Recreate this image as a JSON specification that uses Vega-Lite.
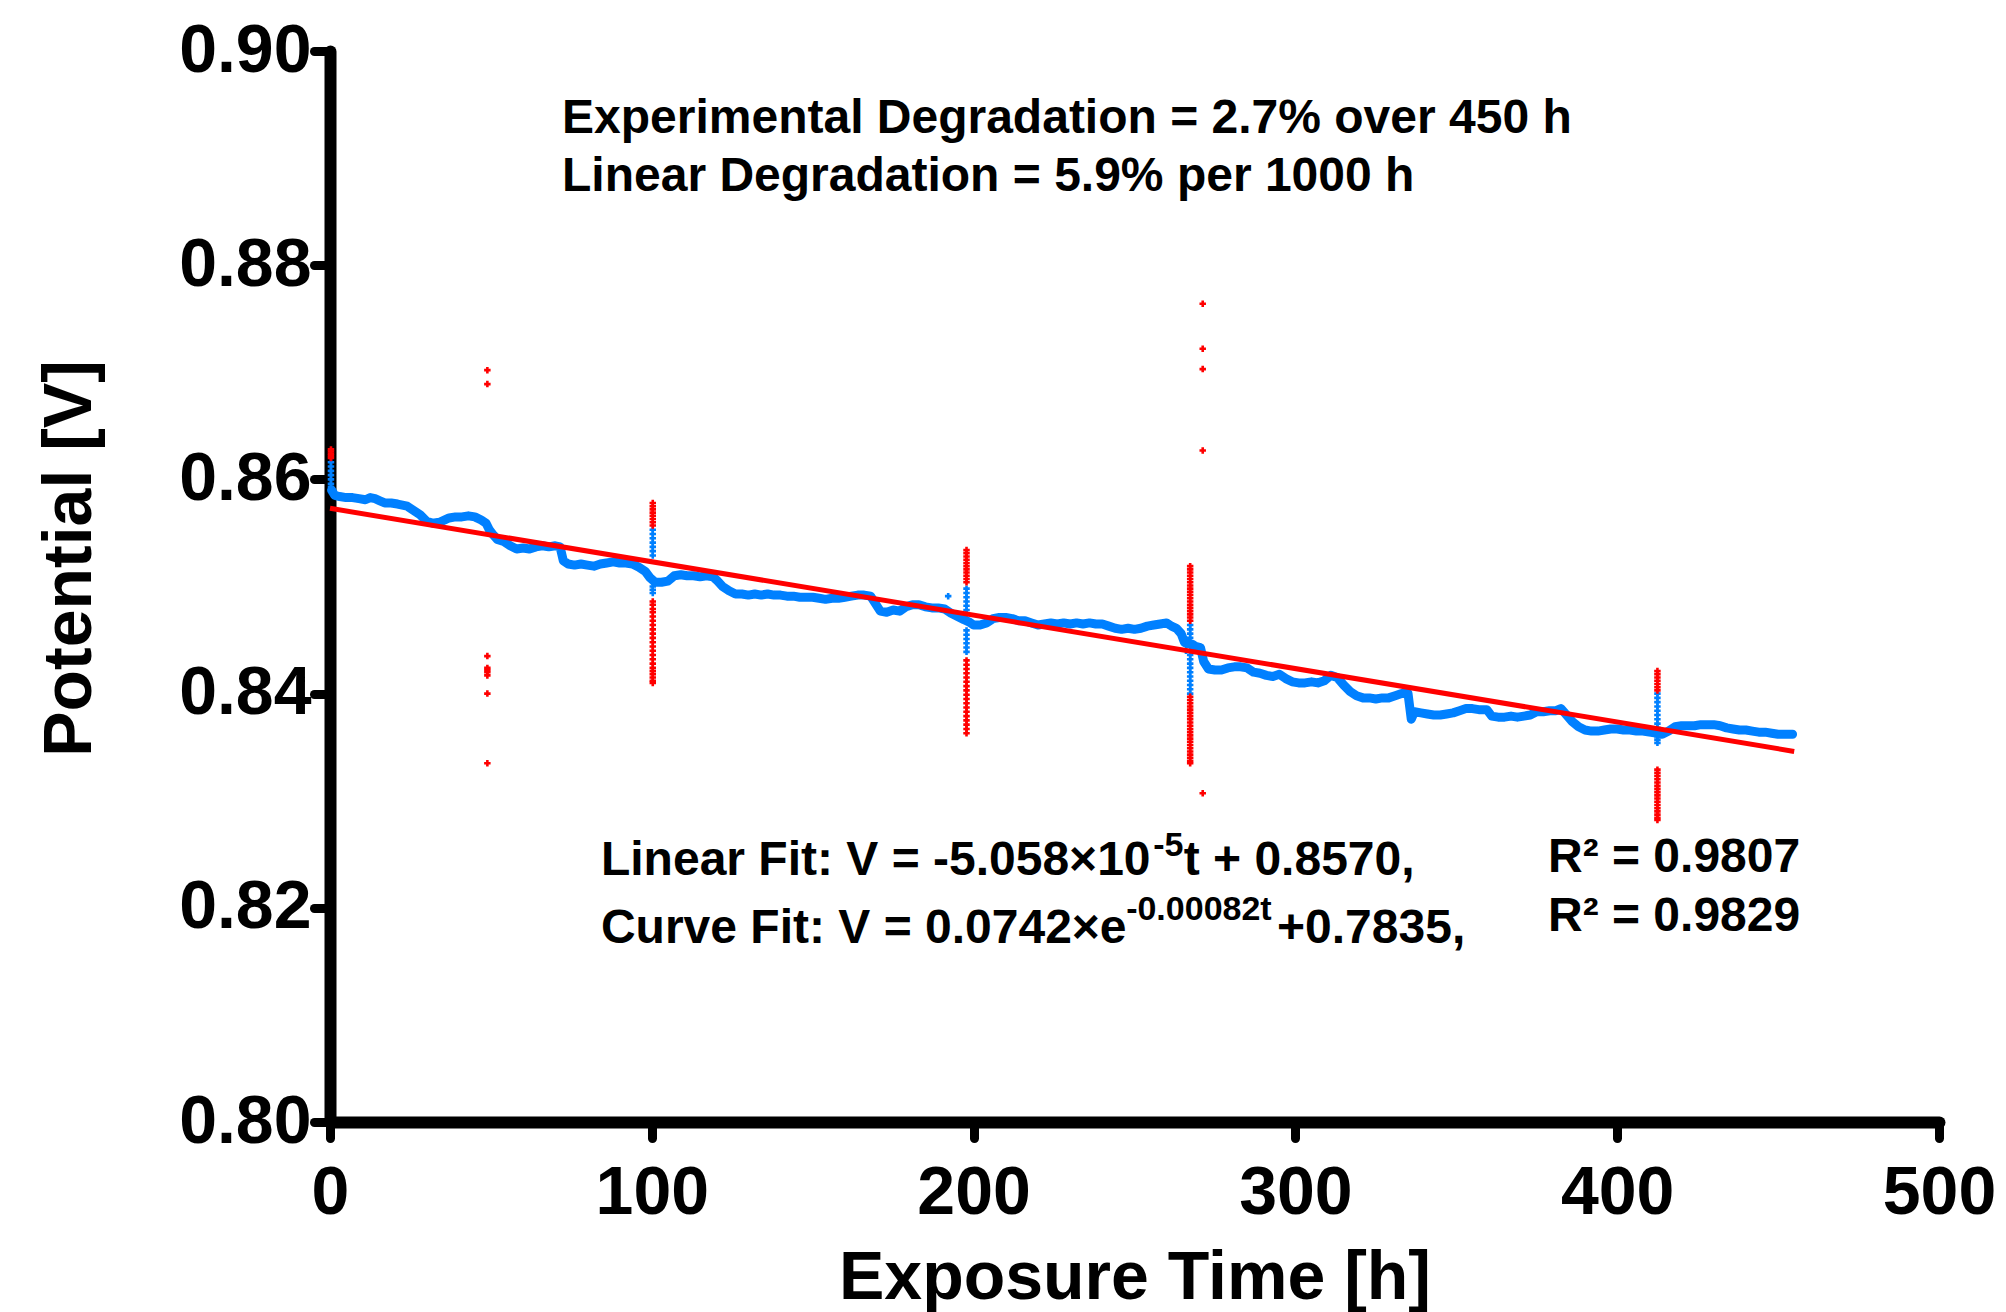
{
  "$schema": "https://vega.github.io/schema/vega-lite/v6.json",
  "autosize": {"type": "none"},
  "padding": {"left": 330, "top": 51, "right": 67, "bottom": 190},
  "width": 1609,
  "height": 1071,
  "background": "white",
  "config": {
    "view": {"stroke": null},
    "axis": {
      "grid": false,
      "domainColor": "black",
      "domainWidth": 12,
      "domainCap": "round",
      "tickColor": "black",
      "tickWidth": 9,
      "tickSize": 16,
      "tickCap": "round",
      "labelFont": "Liberation Sans",
      "labelFontWeight": "bold",
      "labelFontSize": 68,
      "labelColor": "black",
      "labelFlush": false,
      "labelOverlap": false,
      "labelBound": false,
      "titleFont": "Liberation Sans",
      "titleFontWeight": "bold",
      "titleFontSize": 68,
      "titleColor": "black"
    }
  },
  "datasets": {
    "trace": [
      {"t":0.5,"v":0.8590},{"t":1.5,"v":0.8585},{"t":3,"v":0.8584},{"t":5,"v":0.8583},{"t":7,"v":0.8583},{"t":9,"v":0.8582},{"t":11,"v":0.8581},{"t":12.5,"v":0.8583},{"t":14,"v":0.8582},{"t":15.5,"v":0.8580},{"t":17,"v":0.8578},{"t":19,"v":0.8578},{"t":21,"v":0.8577},{"t":22.5,"v":0.8576},{"t":24,"v":0.8575},{"t":26,"v":0.8571},{"t":28,"v":0.8567},{"t":30,"v":0.8561},{"t":32,"v":0.8559},{"t":34,"v":0.8560},{"t":35.5,"v":0.8562},{"t":37,"v":0.8564},{"t":39,"v":0.8565},{"t":41,"v":0.8565},{"t":43,"v":0.8566},{"t":45,"v":0.8565},{"t":47,"v":0.8562},{"t":48.5,"v":0.8559},{"t":49.5,"v":0.8553},{"t":50.5,"v":0.8549},{"t":52,"v":0.8544},{"t":54,"v":0.8542},{"t":56,"v":0.8538},{"t":58,"v":0.8535},{"t":60,"v":0.8536},{"t":62,"v":0.8535},{"t":64,"v":0.8537},{"t":66,"v":0.8538},{"t":68,"v":0.8537},{"t":70,"v":0.8538},{"t":71.5,"v":0.8537},{"t":72.5,"v":0.8524},{"t":74,"v":0.8521},{"t":76,"v":0.8520},{"t":78,"v":0.8521},{"t":80,"v":0.8520},{"t":82,"v":0.8519},{"t":84,"v":0.8521},{"t":86,"v":0.8522},{"t":88,"v":0.8523},{"t":90,"v":0.8522},{"t":92,"v":0.8522},{"t":94,"v":0.8521},{"t":96,"v":0.8518},{"t":98,"v":0.8514},{"t":99.5,"v":0.8508},{"t":101,"v":0.8504},{"t":103,"v":0.8504},{"t":105,"v":0.8505},{"t":107,"v":0.8510},{"t":109,"v":0.8511},{"t":111,"v":0.8510},{"t":113,"v":0.8510},{"t":115,"v":0.8509},{"t":117,"v":0.8510},{"t":119,"v":0.8509},{"t":120.5,"v":0.8505},{"t":122,"v":0.8500},{"t":124,"v":0.8496},{"t":126,"v":0.8493},{"t":128,"v":0.8493},{"t":130,"v":0.8492},{"t":132,"v":0.8493},{"t":134,"v":0.8492},{"t":136,"v":0.8493},{"t":138,"v":0.8492},{"t":140,"v":0.8492},{"t":142,"v":0.8491},{"t":144,"v":0.8491},{"t":146,"v":0.8490},{"t":148,"v":0.8490},{"t":150,"v":0.8490},{"t":152,"v":0.8489},{"t":154,"v":0.8488},{"t":156,"v":0.8489},{"t":158,"v":0.8489},{"t":160,"v":0.8490},{"t":162,"v":0.8491},{"t":164,"v":0.8492},{"t":166,"v":0.8492},{"t":168,"v":0.8491},{"t":169.5,"v":0.8484},{"t":171,"v":0.8477},{"t":173,"v":0.8476},{"t":175,"v":0.8478},{"t":177,"v":0.8477},{"t":179,"v":0.8481},{"t":181,"v":0.8483},{"t":183,"v":0.8483},{"t":185,"v":0.8481},{"t":187,"v":0.8480},{"t":189,"v":0.8480},{"t":191,"v":0.8479},{"t":193,"v":0.8475},{"t":195,"v":0.8472},{"t":197,"v":0.8469},{"t":198.5,"v":0.8467},{"t":200,"v":0.8464},{"t":202,"v":0.8464},{"t":204,"v":0.8466},{"t":206,"v":0.8470},{"t":208,"v":0.8471},{"t":210,"v":0.8471},{"t":212,"v":0.8470},{"t":214,"v":0.8468},{"t":216,"v":0.8468},{"t":218,"v":0.8466},{"t":220,"v":0.8464},{"t":222,"v":0.8465},{"t":224,"v":0.8466},{"t":226,"v":0.8465},{"t":228,"v":0.8466},{"t":230,"v":0.8465},{"t":232,"v":0.8466},{"t":234,"v":0.8465},{"t":236,"v":0.8466},{"t":238,"v":0.8465},{"t":240,"v":0.8465},{"t":242,"v":0.8463},{"t":244,"v":0.8461},{"t":246,"v":0.8460},{"t":248,"v":0.8461},{"t":250,"v":0.8460},{"t":252,"v":0.8461},{"t":254,"v":0.8463},{"t":256,"v":0.8464},{"t":258,"v":0.8465},{"t":260,"v":0.8466},{"t":261.5,"v":0.8463},{"t":263,"v":0.8461},{"t":264.5,"v":0.8456},{"t":265.5,"v":0.8448},{"t":266.5,"v":0.8447},{"t":268,"v":0.8446},{"t":269,"v":0.8444},{"t":270.5,"v":0.8443},{"t":271.5,"v":0.8430},{"t":273,"v":0.8423},{"t":275,"v":0.8422},{"t":277,"v":0.8422},{"t":279,"v":0.8424},{"t":281,"v":0.8425},{"t":283,"v":0.8425},{"t":285,"v":0.8424},{"t":287,"v":0.8420},{"t":289,"v":0.8419},{"t":291,"v":0.8417},{"t":293,"v":0.8416},{"t":295,"v":0.8418},{"t":297,"v":0.8414},{"t":299,"v":0.8411},{"t":301,"v":0.8410},{"t":303,"v":0.8410},{"t":305,"v":0.8411},{"t":307,"v":0.8410},{"t":309,"v":0.8412},{"t":311,"v":0.8417},{"t":313,"v":0.8415},{"t":315,"v":0.8408},{"t":317,"v":0.8402},{"t":319,"v":0.8398},{"t":321,"v":0.8396},{"t":323,"v":0.8396},{"t":325,"v":0.8395},{"t":327,"v":0.8396},{"t":329,"v":0.8396},{"t":331,"v":0.8398},{"t":333,"v":0.8400},{"t":335,"v":0.8400},{"t":336,"v":0.8376},{"t":337,"v":0.8383},{"t":339,"v":0.8382},{"t":341,"v":0.8381},{"t":343,"v":0.8380},{"t":345,"v":0.8380},{"t":347,"v":0.8381},{"t":349,"v":0.8382},{"t":351,"v":0.8384},{"t":353,"v":0.8386},{"t":355,"v":0.8386},{"t":357,"v":0.8385},{"t":359.5,"v":0.8385},{"t":361,"v":0.8379},{"t":363,"v":0.8378},{"t":365,"v":0.8378},{"t":367,"v":0.8379},{"t":369,"v":0.8378},{"t":371,"v":0.8379},{"t":373,"v":0.8380},{"t":375,"v":0.8383},{"t":377,"v":0.8383},{"t":379,"v":0.8384},{"t":381,"v":0.8384},{"t":382.5,"v":0.8386},{"t":384,"v":0.8381},{"t":386,"v":0.8374},{"t":388,"v":0.8369},{"t":390,"v":0.8366},{"t":392,"v":0.8365},{"t":394,"v":0.8365},{"t":396,"v":0.8366},{"t":398,"v":0.8367},{"t":400,"v":0.8367},{"t":402,"v":0.8366},{"t":404,"v":0.8366},{"t":406,"v":0.8365},{"t":408,"v":0.8365},{"t":410,"v":0.8364},{"t":412.5,"v":0.8363},{"t":414,"v":0.8362},{"t":416,"v":0.8365},{"t":418,"v":0.8369},{"t":420,"v":0.8370},{"t":422,"v":0.8370},{"t":424,"v":0.8370},{"t":426,"v":0.8371},{"t":428,"v":0.8371},{"t":430,"v":0.8371},{"t":432,"v":0.8370},{"t":434,"v":0.8368},{"t":436,"v":0.8367},{"t":438,"v":0.8366},{"t":440,"v":0.8366},{"t":442,"v":0.8365},{"t":444,"v":0.8364},{"t":446,"v":0.8364},{"t":448,"v":0.8363},{"t":450,"v":0.8362},{"t":452,"v":0.8362},{"t":454.5,"v":0.8362}
    ],
    "spikes": [
      {"t":0.3,"v":0.8616,"kind":"included"},{"t":0.3,"v":0.8612,"kind":"included"},{"t":0.3,"v":0.8608,"kind":"included"},{"t":0.3,"v":0.8604,"kind":"included"},{"t":0.3,"v":0.8600,"kind":"included"},{"t":0.3,"v":0.8596,"kind":"included"},{"t":0.3,"v":0.8593,"kind":"included"},
      {"t":100.3,"v":0.8553,"kind":"included"},{"t":100.3,"v":0.8549,"kind":"included"},{"t":100.3,"v":0.8545,"kind":"included"},{"t":100.3,"v":0.8541,"kind":"included"},{"t":100.3,"v":0.8537,"kind":"included"},{"t":100.3,"v":0.8533,"kind":"included"},{"t":100.3,"v":0.8529,"kind":"included"},{"t":100.3,"v":0.8500,"kind":"included"},{"t":100.3,"v":0.8497,"kind":"included"},{"t":100.3,"v":0.8494,"kind":"included"},
      {"t":192.1,"v":0.8491,"kind":"included"},
      {"t":197.8,"v":0.8498,"kind":"included"},{"t":197.8,"v":0.8494,"kind":"included"},{"t":197.8,"v":0.8490,"kind":"included"},{"t":197.8,"v":0.8486,"kind":"included"},{"t":197.8,"v":0.8482,"kind":"included"},{"t":197.8,"v":0.8478,"kind":"included"},{"t":197.8,"v":0.8474,"kind":"included"},{"t":197.8,"v":0.8459,"kind":"included"},{"t":197.8,"v":0.8455,"kind":"included"},{"t":197.8,"v":0.8451,"kind":"included"},{"t":197.8,"v":0.8447,"kind":"included"},{"t":197.8,"v":0.8443,"kind":"included"},{"t":197.8,"v":0.8439,"kind":"included"},
      {"t":266,"v":0.8450,"kind":"included"},{"t":266,"v":0.8445,"kind":"included"},{"t":266,"v":0.8440,"kind":"included"},
      {"t":267.3,"v":0.8464,"kind":"included"},{"t":267.3,"v":0.8460,"kind":"included"},{"t":267.3,"v":0.8456,"kind":"included"},{"t":267.3,"v":0.8452,"kind":"included"},{"t":267.3,"v":0.8448,"kind":"included"},{"t":267.3,"v":0.8444,"kind":"included"},{"t":267.3,"v":0.8440,"kind":"included"},{"t":267.3,"v":0.8436,"kind":"included"},{"t":267.3,"v":0.8432,"kind":"included"},{"t":267.3,"v":0.8428,"kind":"included"},{"t":267.3,"v":0.8424,"kind":"included"},{"t":267.3,"v":0.8420,"kind":"included"},{"t":267.3,"v":0.8416,"kind":"included"},{"t":267.3,"v":0.8412,"kind":"included"},{"t":267.3,"v":0.8408,"kind":"included"},{"t":267.3,"v":0.8404,"kind":"included"},{"t":267.3,"v":0.8400,"kind":"included"},
      {"t":412.5,"v":0.8400,"kind":"included"},{"t":412.5,"v":0.8396,"kind":"included"},{"t":412.5,"v":0.8392,"kind":"included"},{"t":412.5,"v":0.8388,"kind":"included"},{"t":412.5,"v":0.8384,"kind":"included"},{"t":412.5,"v":0.8380,"kind":"included"},{"t":412.5,"v":0.8376,"kind":"included"},{"t":412.5,"v":0.8372,"kind":"included"},{"t":412.5,"v":0.8368,"kind":"included"},{"t":412.5,"v":0.8360,"kind":"included"},{"t":412.5,"v":0.8357,"kind":"included"},{"t":412.5,"v":0.8354,"kind":"included"},
      {"t":0.3,"v":0.8628,"kind":"outlier"},{"t":0.3,"v":0.8626,"kind":"outlier"},{"t":0.3,"v":0.8624,"kind":"outlier"},{"t":0.3,"v":0.8622,"kind":"outlier"},{"t":0.3,"v":0.8620,"kind":"outlier"},
      {"t":48.9,"v":0.8702,"kind":"outlier"},{"t":48.9,"v":0.8689,"kind":"outlier"},{"t":48.9,"v":0.8435,"kind":"outlier"},{"t":48.9,"v":0.8424,"kind":"outlier"},{"t":48.9,"v":0.8422,"kind":"outlier"},{"t":48.9,"v":0.8420,"kind":"outlier"},{"t":48.9,"v":0.8417,"kind":"outlier"},{"t":48.9,"v":0.8400,"kind":"outlier"},{"t":48.9,"v":0.8335,"kind":"outlier"},
      {"t":100.3,"v":0.8578,"kind":"outlier"},{"t":100.3,"v":0.8575,"kind":"outlier"},{"t":100.3,"v":0.8572,"kind":"outlier"},{"t":100.3,"v":0.8569,"kind":"outlier"},{"t":100.3,"v":0.8566,"kind":"outlier"},{"t":100.3,"v":0.8563,"kind":"outlier"},{"t":100.3,"v":0.8560,"kind":"outlier"},{"t":100.3,"v":0.8557,"kind":"outlier"},
      {"t":100.3,"v":0.8486,"kind":"outlier"},{"t":100.3,"v":0.8483,"kind":"outlier"},{"t":100.3,"v":0.8479,"kind":"outlier"},{"t":100.3,"v":0.8476,"kind":"outlier"},{"t":100.3,"v":0.8472,"kind":"outlier"},{"t":100.3,"v":0.8468,"kind":"outlier"},{"t":100.3,"v":0.8464,"kind":"outlier"},{"t":100.3,"v":0.8460,"kind":"outlier"},{"t":100.3,"v":0.8456,"kind":"outlier"},{"t":100.3,"v":0.8452,"kind":"outlier"},{"t":100.3,"v":0.8448,"kind":"outlier"},{"t":100.3,"v":0.8444,"kind":"outlier"},{"t":100.3,"v":0.8440,"kind":"outlier"},{"t":100.3,"v":0.8436,"kind":"outlier"},{"t":100.3,"v":0.8432,"kind":"outlier"},{"t":100.3,"v":0.8428,"kind":"outlier"},{"t":100.3,"v":0.8424,"kind":"outlier"},{"t":100.3,"v":0.8421,"kind":"outlier"},{"t":100.3,"v":0.8418,"kind":"outlier"},{"t":100.3,"v":0.8415,"kind":"outlier"},{"t":100.3,"v":0.8412,"kind":"outlier"},{"t":100.3,"v":0.8410,"kind":"outlier"},
      {"t":197.8,"v":0.8534,"kind":"outlier"},{"t":197.8,"v":0.8531,"kind":"outlier"},{"t":197.8,"v":0.8528,"kind":"outlier"},{"t":197.8,"v":0.8525,"kind":"outlier"},{"t":197.8,"v":0.8522,"kind":"outlier"},{"t":197.8,"v":0.8519,"kind":"outlier"},{"t":197.8,"v":0.8516,"kind":"outlier"},{"t":197.8,"v":0.8513,"kind":"outlier"},{"t":197.8,"v":0.8510,"kind":"outlier"},{"t":197.8,"v":0.8507,"kind":"outlier"},{"t":197.8,"v":0.8504,"kind":"outlier"},
      {"t":197.8,"v":0.8431,"kind":"outlier"},{"t":197.8,"v":0.8427,"kind":"outlier"},{"t":197.8,"v":0.8423,"kind":"outlier"},{"t":197.8,"v":0.8419,"kind":"outlier"},{"t":197.8,"v":0.8415,"kind":"outlier"},{"t":197.8,"v":0.8411,"kind":"outlier"},{"t":197.8,"v":0.8407,"kind":"outlier"},{"t":197.8,"v":0.8403,"kind":"outlier"},{"t":197.8,"v":0.8399,"kind":"outlier"},{"t":197.8,"v":0.8395,"kind":"outlier"},{"t":197.8,"v":0.8391,"kind":"outlier"},{"t":197.8,"v":0.8387,"kind":"outlier"},{"t":197.8,"v":0.8383,"kind":"outlier"},{"t":197.8,"v":0.8379,"kind":"outlier"},{"t":197.8,"v":0.8375,"kind":"outlier"},{"t":197.8,"v":0.8371,"kind":"outlier"},{"t":197.8,"v":0.8367,"kind":"outlier"},{"t":197.8,"v":0.8363,"kind":"outlier"},
      {"t":267.3,"v":0.8519,"kind":"outlier"},{"t":267.3,"v":0.8516,"kind":"outlier"},{"t":267.3,"v":0.8513,"kind":"outlier"},{"t":267.3,"v":0.8510,"kind":"outlier"},{"t":267.3,"v":0.8507,"kind":"outlier"},{"t":267.3,"v":0.8504,"kind":"outlier"},{"t":267.3,"v":0.8501,"kind":"outlier"},{"t":267.3,"v":0.8498,"kind":"outlier"},{"t":267.3,"v":0.8495,"kind":"outlier"},{"t":267.3,"v":0.8492,"kind":"outlier"},{"t":267.3,"v":0.8489,"kind":"outlier"},{"t":267.3,"v":0.8486,"kind":"outlier"},{"t":267.3,"v":0.8483,"kind":"outlier"},{"t":267.3,"v":0.8480,"kind":"outlier"},{"t":267.3,"v":0.8477,"kind":"outlier"},{"t":267.3,"v":0.8474,"kind":"outlier"},{"t":267.3,"v":0.8471,"kind":"outlier"},{"t":267.3,"v":0.8468,"kind":"outlier"},
      {"t":267.3,"v":0.8397,"kind":"outlier"},{"t":267.3,"v":0.8394,"kind":"outlier"},{"t":267.3,"v":0.8391,"kind":"outlier"},{"t":267.3,"v":0.8388,"kind":"outlier"},{"t":267.3,"v":0.8385,"kind":"outlier"},{"t":267.3,"v":0.8382,"kind":"outlier"},{"t":267.3,"v":0.8379,"kind":"outlier"},{"t":267.3,"v":0.8376,"kind":"outlier"},{"t":267.3,"v":0.8373,"kind":"outlier"},{"t":267.3,"v":0.8370,"kind":"outlier"},{"t":267.3,"v":0.8367,"kind":"outlier"},{"t":267.3,"v":0.8364,"kind":"outlier"},{"t":267.3,"v":0.8361,"kind":"outlier"},{"t":267.3,"v":0.8358,"kind":"outlier"},{"t":267.3,"v":0.8355,"kind":"outlier"},{"t":267.3,"v":0.8352,"kind":"outlier"},{"t":267.3,"v":0.8349,"kind":"outlier"},{"t":267.3,"v":0.8346,"kind":"outlier"},{"t":267.3,"v":0.8343,"kind":"outlier"},{"t":267.3,"v":0.8340,"kind":"outlier"},{"t":267.3,"v":0.8337,"kind":"outlier"},{"t":267.3,"v":0.8335,"kind":"outlier"},
      {"t":271.2,"v":0.8764,"kind":"outlier"},{"t":271.2,"v":0.8722,"kind":"outlier"},{"t":271.2,"v":0.8703,"kind":"outlier"},{"t":271.2,"v":0.8627,"kind":"outlier"},{"t":271.2,"v":0.8307,"kind":"outlier"},
      {"t":412.5,"v":0.8421,"kind":"outlier"},{"t":412.5,"v":0.8418,"kind":"outlier"},{"t":412.5,"v":0.8415,"kind":"outlier"},{"t":412.5,"v":0.8412,"kind":"outlier"},{"t":412.5,"v":0.8409,"kind":"outlier"},{"t":412.5,"v":0.8406,"kind":"outlier"},{"t":412.5,"v":0.8403,"kind":"outlier"},
      {"t":412.5,"v":0.8329,"kind":"outlier"},{"t":412.5,"v":0.8326,"kind":"outlier"},{"t":412.5,"v":0.8323,"kind":"outlier"},{"t":412.5,"v":0.8320,"kind":"outlier"},{"t":412.5,"v":0.8317,"kind":"outlier"},{"t":412.5,"v":0.8314,"kind":"outlier"},{"t":412.5,"v":0.8311,"kind":"outlier"},{"t":412.5,"v":0.8308,"kind":"outlier"},{"t":412.5,"v":0.8305,"kind":"outlier"},{"t":412.5,"v":0.8302,"kind":"outlier"},{"t":412.5,"v":0.8299,"kind":"outlier"},{"t":412.5,"v":0.8296,"kind":"outlier"},{"t":412.5,"v":0.8293,"kind":"outlier"},{"t":412.5,"v":0.8290,"kind":"outlier"},{"t":412.5,"v":0.8287,"kind":"outlier"},{"t":412.5,"v":0.8284,"kind":"outlier"},{"t":412.5,"v":0.8282,"kind":"outlier"}
    ],
    "fit": [
      {"t":0,"v":0.8573},{"t":455,"v":0.8346}
    ],
    "notes": [
      {"t":72.1,"v":0.89234,"label":"Experimental Degradation = 2.7% over 450 h"},
      {"t":72.1,"v":0.88693,"label":"Linear Degradation = 5.9% per 1000 h"},
      {"t":84.2,"v":0.82306,"label":"Linear Fit: V = -5.058×10"},
      {"t":265.3,"v":0.82306,"label":"t + 0.8570,"},
      {"t":84.2,"v":0.81671,"label":"Curve Fit: V = 0.0742×e"},
      {"t":294.3,"v":0.81671,"label":"+0.7835,"},
      {"t":378.5,"v":0.82334,"label":"R² = 0.9807"},
      {"t":378.5,"v":0.81783,"label":"R² = 0.9829"}
    ],
    "exponents": [
      {"t":255.8,"v":0.82484,"label":"-5"},
      {"t":247.4,"v":0.81890,"label":"-0.00082t"}
    ]
  },
  "encoding": {
    "x": {
      "field": "t", "type": "quantitative",
      "scale": {"domain": [0, 500], "nice": false, "zero": false},
      "axis": {
        "title": "Exposure Time [h]",
        "values": [0, 100, 200, 300, 400, 500],
        "format": "d",
        "labelPadding": 21,
        "titleY": 176,
        "titleBaseline": "alphabetic"
      }
    },
    "y": {
      "field": "v", "type": "quantitative",
      "scale": {"domain": [0.8, 0.9], "nice": false, "zero": false},
      "axis": {
        "title": "Potential [V]",
        "values": [0.8, 0.82, 0.84, 0.86, 0.88, 0.9],
        "format": ".2f",
        "labelPadding": 3,
        "titleX": -240,
        "titleY": 507,
        "titleAngle": 270,
        "titleAlign": "center",
        "titleBaseline": "alphabetic"
      }
    }
  },
  "layer": [
    {
      "data": {"name": "trace"},
      "mark": {"type": "line", "color": "#0080FF", "strokeWidth": 9, "strokeJoin": "round", "strokeCap": "round"}
    },
    {
      "data": {"name": "spikes"},
      "mark": {"type": "point", "shape": "cross", "filled": true, "size": 42, "opacity": 1},
      "encoding": {
        "color": {"field": "kind", "type": "nominal", "scale": {"domain": ["included", "outlier"], "range": ["#0080FF", "#FF0000"]}, "legend": null}
      }
    },
    {
      "data": {"name": "fit"},
      "mark": {"type": "line", "color": "#FF0000", "strokeWidth": 5}
    },
    {
      "data": {"name": "notes"},
      "mark": {"type": "text", "align": "left", "baseline": "alphabetic", "font": "Liberation Sans", "fontWeight": "bold", "fontSize": 48, "color": "black"},
      "encoding": {"text": {"field": "label"}}
    },
    {
      "data": {"name": "exponents"},
      "mark": {"type": "text", "align": "left", "baseline": "alphabetic", "font": "Liberation Sans", "fontWeight": "bold", "fontSize": 34, "color": "black"},
      "encoding": {"text": {"field": "label"}}
    }
  ]
}
